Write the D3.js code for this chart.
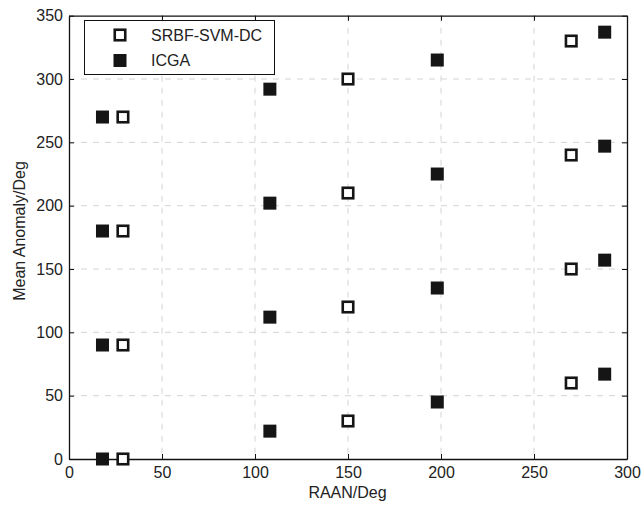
<!DOCTYPE html>
<html><head><meta charset="utf-8">
<script src="https://cdn.jsdelivr.net/npm/d3@7"></script>
<style>body{margin:0;background:#fff}svg{display:block}text{font-family:"Liberation Sans",Arial,sans-serif}</style>
</head><body><svg id="c" width="644" height="505"></svg>
<script>
const srbfX = [29,29,29,29,150,150,150,150,270,270,270,270];
const srbfY = [0,90,180,270,30,120,210,300,60,150,240,330];
const icgaX = [18,18,18,18,108,108,108,108,198,198,198,198,288,288,288,288];
const icgaY = [0,90,180,270,22,112,202,292,45,135,225,315,67,157,247,337];
const xTicks = [0,50,100,150,200,250,300];
const yTicks = [0,50,100,150,200,250,300,350];
const seriesNames = ["SRBF-SVM-DC","ICGA"];

const FS = 16;
const svg = d3.select("#c");
const L=69,R=627,T=15.7,B=459;
const x = d3.scaleLinear().domain([0,300]).range([L,R]);
const y = d3.scaleLinear().domain([0,350]).range([B,T]);

// grid
const g = svg.append("g");
g.selectAll(".gx").data(xTicks.slice(1,-1)).enter().append("line")
 .attr("x1",d=>x(d)).attr("x2",d=>x(d)).attr("y1",T).attr("y2",B)
 .attr("stroke","#d4d4d4").attr("stroke-dasharray","6,6").attr("stroke-width",1);
g.selectAll(".gy").data(yTicks.slice(1,-1)).enter().append("line")
 .attr("x1",L).attr("x2",R).attr("y1",d=>y(d)).attr("y2",d=>y(d))
 .attr("stroke","#d4d4d4").attr("stroke-dasharray","6,6").attr("stroke-width",1);

// axes
const ax = svg.append("g").attr("transform",`translate(0,${B})`)
 .call(d3.axisBottom(x).tickValues(xTicks).tickSizeInner(-5).tickSizeOuter(0).tickPadding(8));
const ay = svg.append("g").attr("transform",`translate(${L},0)`)
 .call(d3.axisLeft(y).tickValues(yTicks).tickSizeInner(-5).tickSizeOuter(0).tickPadding(6));
const axT = svg.append("g").attr("transform",`translate(0,${T})`)
 .call(d3.axisTop(x).tickValues(xTicks).tickSizeInner(-5).tickSizeOuter(0).tickFormat(""));
const ayR = svg.append("g").attr("transform",`translate(${R},0)`)
 .call(d3.axisRight(y).tickValues(yTicks).tickSizeInner(-5).tickSizeOuter(0).tickFormat(""));
[ax,ay,axT,ayR].forEach(a=>{
  a.selectAll("path").attr("stroke","#111").attr("stroke-width",1.3);
  a.selectAll("line").attr("stroke","#111");
  a.selectAll("text").attr("font-size",FS).attr("fill","#222").attr("font-family","Liberation Sans, Arial, sans-serif");
});

// points
const s=13;
svg.append("g").selectAll("rect").data(icgaX.map((d,i)=>[d,icgaY[i]])).enter().append("rect")
 .attr("x",d=>x(d[0])-s/2).attr("y",d=>y(d[1])-s/2).attr("width",s).attr("height",s)
 .attr("fill","#151515");
const h=10.5;
svg.append("g").selectAll("rect").data(srbfX.map((d,i)=>[d,srbfY[i]])).enter().append("rect")
 .attr("x",d=>x(d[0])-h/2).attr("y",d=>y(d[1])-h/2).attr("width",h).attr("height",h)
 .attr("fill","#fff").attr("stroke","#151515").attr("stroke-width",2.6);

// legend
const lg = svg.append("g");
lg.append("rect").attr("x",84.5).attr("y",20.5).attr("width",190).attr("height",54)
 .attr("fill","#fff").attr("stroke","#111").attr("stroke-width",1);
lg.append("rect").attr("x",120-h/2).attr("y",35-h/2).attr("width",h).attr("height",h)
 .attr("fill","#fff").attr("stroke","#151515").attr("stroke-width",2.6);
lg.append("rect").attr("x",120-s/2).attr("y",60.5-s/2).attr("width",s).attr("height",s).attr("fill","#151515");
lg.selectAll("text").data(seriesNames).enter().append("text")
 .attr("x",151).attr("y",(d,i)=>35+i*25.5).attr("dy","0.35em").attr("font-size",FS).attr("fill","#222").text(d=>d);

// titles
svg.append("text").attr("x",347.5).attr("y",498).attr("text-anchor","middle").attr("font-size",FS).attr("fill","#222").text("RAAN/Deg");
svg.append("text").attr("transform",`translate(25,231) rotate(-90)`).attr("text-anchor","middle").attr("font-size",FS).attr("fill","#222").text("Mean Anomaly/Deg");
</script></body></html>
